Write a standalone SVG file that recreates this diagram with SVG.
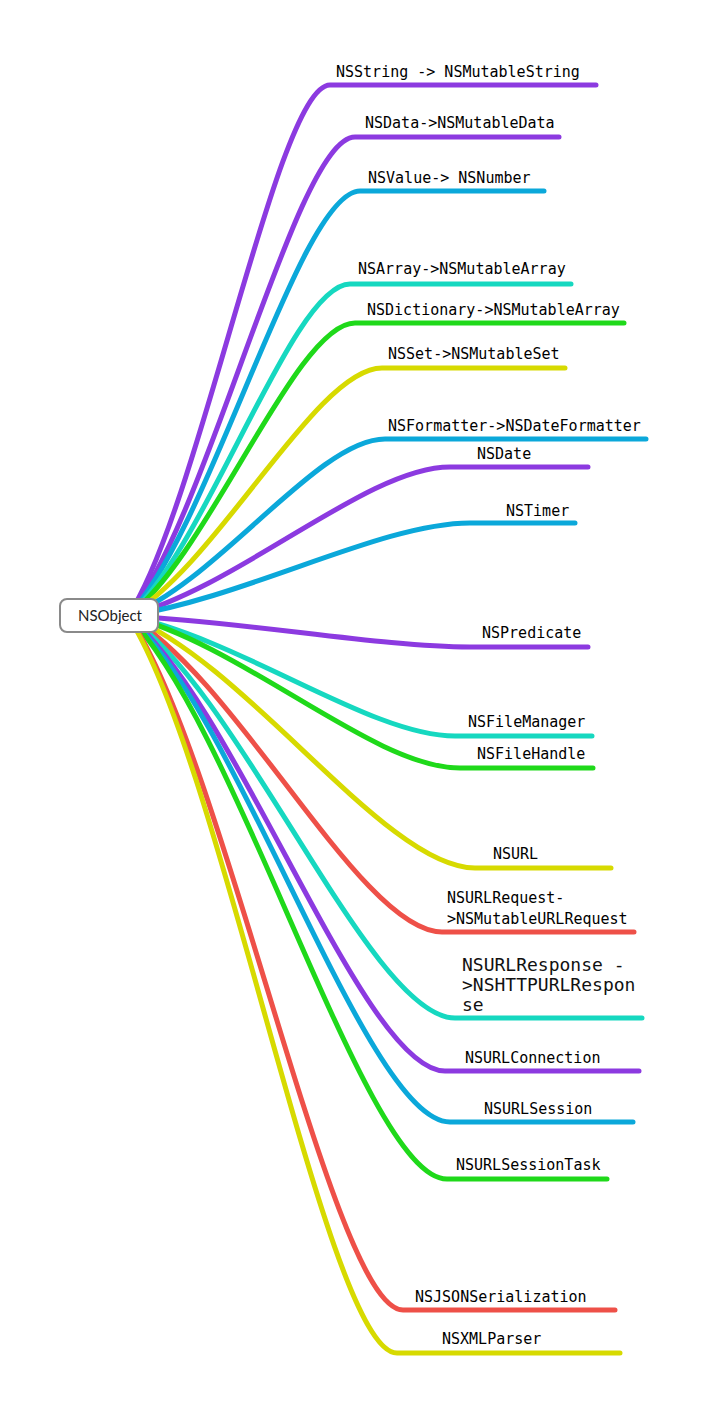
<svg xmlns="http://www.w3.org/2000/svg" width="708" height="1412" viewBox="0 0 708 1412">
<style>
.c{fill:none;stroke-width:5;stroke-linecap:round;stroke-linejoin:round}
.p{stroke:#8c3ae0}.b{stroke:#0ba8da}.t{stroke:#16d8c0}.g{stroke:#1fd91a}.y{stroke:#d7da00}.r{stroke:#ee5048}
.l{font-family:"DejaVu Sans Mono","Liberation Mono",monospace;font-size:15px;fill:#000}
.l2{font-family:"DejaVu Sans Mono","Liberation Mono",monospace;font-size:18px;fill:#111}
.root{fill:#fff;stroke:#8a8a8a;stroke-width:2}
.rt{font-family:Lato,"Liberation Sans",sans-serif;font-size:15px;fill:#222}
</style>
<rect width="708" height="1412" fill="#fff"/>
<g id="connectors">
<path class="c p" d="M128,616 C199,510 277,85 330,85 L596,85"/>
<path class="c p" d="M128,616 C208,520 296,137 355,137 L559,137"/>
<path class="c b" d="M128,616 C210,531 300,191 360,191 L544,191"/>
<path class="c t" d="M128,616 C206,550 292,284 350,284 L571,284"/>
<path class="c g" d="M128,616 C208,557 296,323 355,323 L624,323"/>
<path class="c y" d="M128,616 C217,566 316,368 382,368 L565,368"/>
<path class="c b" d="M128,616 C218,581 318,439 385,439 L646,439"/>
<path class="c p" d="M128,616 C241,586 367,467 450,467 L588,467"/>
<path class="c b" d="M128,616 C248,597 382,523 470,523 L575,523"/>
<path class="c p" d="M128,616 C248,622 382,647 470,647 L588,647"/>
<path class="c t" d="M128,616 C243,640 371,736 455,736 L592,736"/>
<path class="c g" d="M128,616 C245,646 374,768 460,768 L593,768"/>
<path class="c y" d="M128,616 C250,666 386,868 475,868 L611,868"/>
<path class="c r" d="M128,616 C238,679 361,932 442,932 L634,932"/>
<path class="c t" d="M128,616 C243,696 371,1018 455,1018 L642,1018"/>
<path class="c p" d="M128,616 C239,707 363,1071 445,1071 L639,1071"/>
<path class="c b" d="M128,616 C241,717 367,1122 450,1122 L633,1122"/>
<path class="c g" d="M128,616 C240,729 365,1179 447,1179 L607,1179"/>
<path class="c r" d="M128,616 C225,755 332,1310 403,1310 L615,1310"/>
<path class="c y" d="M128,616 C223,763 327,1353 397,1353 L620,1353"/>
</g>
<g id="root">
<rect class="root" x="60" y="599" width="98" height="33" rx="7"/>
<text class="rt" x="110" y="621" text-anchor="middle">NSObject</text>
</g>
<g id="n1"><text class="l" x="336" y="77">NSString -&gt; NSMutableString</text></g>
<g id="n2"><text class="l" x="365" y="128">NSData-&gt;NSMutableData</text></g>
<g id="n3"><text class="l" x="368" y="183">NSValue-&gt; NSNumber</text></g>
<g id="n4"><text class="l" x="358" y="274">NSArray-&gt;NSMutableArray</text></g>
<g id="n5"><text class="l" x="367" y="315">NSDictionary-&gt;NSMutableArray</text></g>
<g id="n6"><text class="l" x="388" y="359">NSSet-&gt;NSMutableSet</text></g>
<g id="n7"><text class="l" x="388" y="431">NSFormatter-&gt;NSDateFormatter</text></g>
<g id="n8"><text class="l" x="477" y="459">NSDate</text></g>
<g id="n9"><text class="l" x="506" y="516">NSTimer</text></g>
<g id="n10"><text class="l" x="482" y="638">NSPredicate</text></g>
<g id="n11"><text class="l" x="468" y="727">NSFileManager</text></g>
<g id="n12"><text class="l" x="477" y="759">NSFileHandle</text></g>
<g id="n13"><text class="l" x="493" y="859">NSURL</text></g>
<g id="n14"><text class="l" x="447" y="903">NSURLRequest-</text><text class="l" x="447" y="924">&gt;NSMutableURLRequest</text></g>
<g id="n15"><text class="l2" x="462" y="971">NSURLResponse -</text><text class="l2" x="462" y="991">&gt;NSHTTPURLRespon</text><text class="l2" x="462" y="1011">se</text></g>
<g id="n16"><text class="l" x="465" y="1063">NSURLConnection</text></g>
<g id="n17"><text class="l" x="484" y="1114">NSURLSession</text></g>
<g id="n18"><text class="l" x="456" y="1170">NSURLSessionTask</text></g>
<g id="n19"><text class="l" x="415" y="1302">NSJSONSerialization</text></g>
<g id="n20"><text class="l" x="442" y="1344">NSXMLParser</text></g>
</svg>
